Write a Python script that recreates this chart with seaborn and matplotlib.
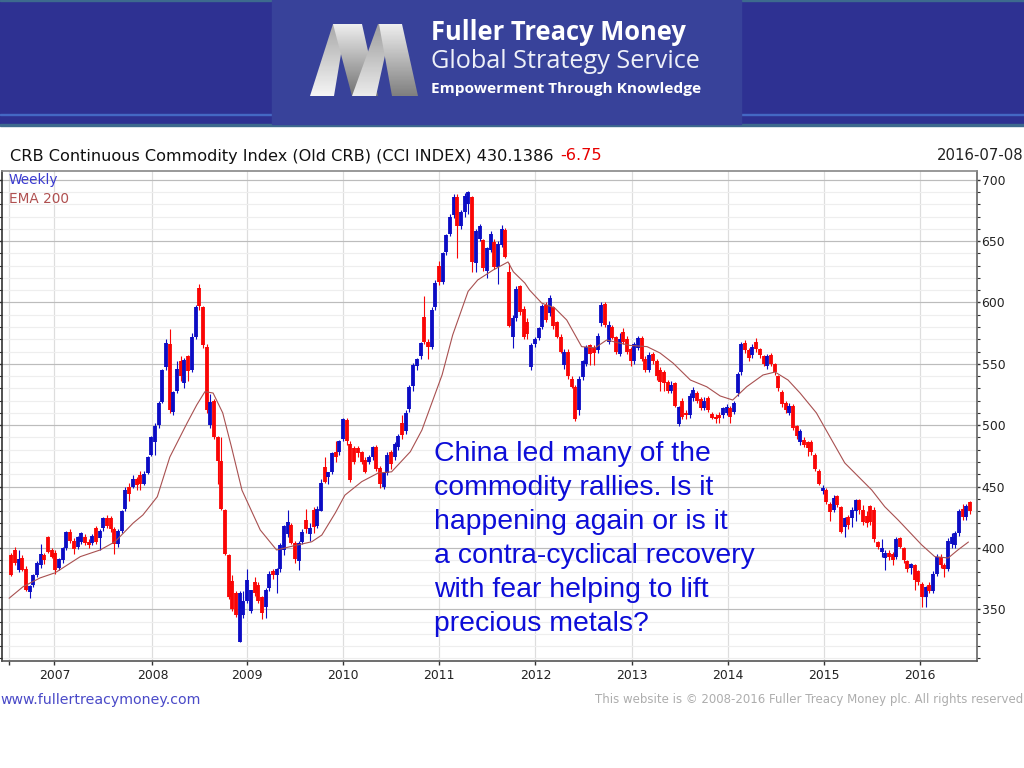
import matplotlib

matplotlib.use("Agg")
import matplotlib.pyplot as plt
import numpy as np
import pandas as pd
import seaborn as sns
from matplotlib.patches import Polygon, Rectangle
from matplotlib.ticker import FixedLocator, MultipleLocator

# two-weekly bars, ending on the last date in the header
candle_dates = pd.date_range(end="2016-07-08", periods=261, freq="14D")

candle_open = [
    394, 398, 382, 392, 383, 364, 370, 378, 386, 394,
    409, 398, 396, 384, 390, 400, 413, 406, 401, 405,
    409, 405, 404, 416, 408, 416, 424, 424, 415, 403,
    414, 432, 450, 450, 456, 459, 452, 461, 476, 486,
    500, 519, 547, 566, 511, 528, 552, 534, 556, 545,
    572, 612, 596, 564, 500, 520, 490, 471, 431, 394,
    373, 363, 323, 345, 357, 349, 372, 370, 360, 352,
    367, 381, 378, 383, 398, 411, 419, 404, 389, 405,
    423, 411, 431, 418, 430, 466, 458, 462, 478, 478,
    489, 504, 485, 481, 481, 478, 472, 470, 474, 482,
    465, 450, 461, 478, 474, 482, 502, 495, 513, 532,
    548, 556, 588, 568, 564, 596, 630, 617, 641, 656,
    671, 686, 662, 674, 680, 686, 632, 652, 651, 626,
    643, 649, 629, 647, 659, 625, 572, 587, 613, 595,
    584, 547, 566, 571, 580, 598, 591, 596, 584, 572,
    549, 560, 538, 531, 512, 539, 550, 565, 563, 561,
    583, 599, 568, 580, 572, 558, 576, 570, 562, 552,
    563, 571, 554, 545, 558, 552, 545, 543, 535, 528,
    534, 501, 520, 510, 508, 522, 526, 521, 514, 522,
    509, 507, 508, 508, 510, 514, 511, 526, 543, 567,
    561, 557, 568, 562, 556, 548, 557, 550, 540, 527,
    518, 510, 516, 499, 486, 488, 486, 486, 476, 463,
    446, 447, 436, 431, 442, 433, 417, 425, 424, 430,
    439, 431, 426, 434, 431, 405, 397, 392, 396, 395,
    393, 408, 400, 389, 384, 386, 381, 371, 360, 370,
    365, 379, 393, 386, 383, 403, 402, 412, 432, 425,
    437,
]
candle_high = [
    396, 401, 398, 394, 385, 370, 379, 389, 403, 396,
    410, 400, 398, 392, 401, 414, 415, 408, 410, 413,
    411, 407, 411, 418, 415, 425, 427, 426, 417, 415,
    431, 450, 453, 459, 458, 463, 463, 475, 491, 502,
    520, 546, 570, 578, 528, 552, 556, 555, 557, 575,
    598, 615, 597, 566, 525, 521, 491, 490, 432, 395,
    378, 365, 365, 365, 383, 366, 376, 372, 361, 367,
    381, 383, 384, 404, 419, 431, 420, 406, 406, 415,
    432, 420, 433, 434, 456, 474, 462, 478, 487, 488,
    506, 506, 487, 483, 483, 479, 474, 476, 483, 484,
    467, 462, 478, 480, 486, 493, 508, 512, 533, 551,
    555, 568, 605, 570, 596, 618, 634, 641, 656, 672,
    688, 688, 675, 689, 691, 687, 660, 664, 652, 645,
    658, 652, 650, 663, 661, 632, 590, 613, 614, 597,
    587, 567, 572, 580, 599, 600, 606, 597, 585, 574,
    562, 562, 540, 533, 540, 553, 565, 566, 565, 575,
    600, 600, 585, 582, 573, 575, 579, 573, 564, 568,
    573, 573, 556, 560, 560, 554, 547, 545, 537, 536,
    535, 516, 522, 512, 526, 531, 528, 523, 523, 524,
    511, 509, 511, 515, 517, 516, 520, 543, 568, 569,
    563, 566, 571, 563, 557, 558, 559, 551, 541, 529,
    520, 518, 517, 500, 497, 490, 487, 488, 477, 464,
    451, 449, 437, 443, 443, 434, 425, 427, 433, 440,
    440, 435, 430, 435, 433, 406, 407, 398, 398, 397,
    409, 409, 401, 390, 388, 387, 382, 372, 369, 372,
    381, 395, 395, 388, 408, 412, 414, 432, 436, 436,
    438,
]
candle_low = [
    377, 386, 380, 381, 365, 359, 368, 376, 384, 387,
    396, 392, 379, 382, 388, 398, 404, 395, 399, 403,
    402, 400, 402, 403, 398, 414, 416, 413, 395, 401,
    412, 430, 438, 449, 447, 447, 451, 460, 475, 476,
    498, 518, 545, 510, 508, 526, 536, 530, 536, 543,
    570, 594, 563, 510, 498, 489, 452, 431, 394, 358,
    349, 344, 323, 343, 355, 347, 361, 355, 342, 343,
    365, 375, 363, 380, 394, 409, 403, 388, 382, 403,
    412, 406, 412, 416, 430, 453, 452, 460, 470, 476,
    487, 484, 454, 468, 474, 468, 461, 468, 472, 463,
    449, 448, 459, 464, 472, 480, 489, 493, 511, 528,
    545, 554, 566, 554, 562, 594, 614, 615, 639, 654,
    669, 636, 660, 670, 672, 625, 625, 650, 626, 620,
    641, 627, 615, 645, 636, 580, 563, 585, 590, 570,
    570, 545, 564, 569, 578, 584, 589, 578, 571, 559,
    546, 538, 530, 503, 508, 537, 548, 549, 549, 559,
    581, 580, 566, 570, 558, 556, 566, 558, 548, 550,
    561, 552, 543, 543, 550, 537, 528, 528, 526, 526,
    515, 499, 505, 505, 506, 520, 518, 512, 512, 511,
    505, 502, 502, 506, 508, 502, 509, 524, 541, 559,
    552, 555, 560, 555, 548, 546, 548, 541, 528, 515,
    510, 508, 496, 489, 484, 482, 475, 476, 463, 451,
    444, 436, 422, 429, 433, 412, 409, 415, 417, 422,
    428, 419, 417, 419, 405, 399, 393, 382, 390, 386,
    391, 400, 388, 380, 379, 366, 370, 352, 352, 363,
    363, 377, 384, 376, 381, 400, 400, 410, 423, 423,
    428,
]
candle_close = [
    378, 388, 391, 382, 366, 369, 378, 388, 395, 390,
    397, 393, 382, 391, 400, 413, 406, 399, 409, 412,
    404, 402, 410, 405, 414, 424, 418, 415, 403, 414,
    430, 447, 444, 456, 451, 452, 460, 474, 490, 499,
    518, 545, 567, 512, 527, 546, 540, 553, 544, 572,
    596, 597, 565, 512, 519, 490, 471, 432, 395, 360,
    350, 345, 363, 357, 374, 366, 363, 357, 347, 366,
    379, 378, 383, 402, 418, 421, 404, 391, 404, 413,
    415, 416, 417, 432, 453, 454, 462, 477, 474, 487,
    505, 487, 455, 470, 477, 470, 462, 474, 482, 464,
    452, 461, 476, 468, 485, 491, 492, 510, 531, 549,
    554, 567, 568, 564, 594, 616, 617, 640, 655, 670,
    686, 662, 674, 687, 690, 633, 658, 662, 628, 644,
    656, 629, 648, 660, 637, 581, 587, 611, 592, 572,
    574, 565, 570, 579, 597, 586, 604, 581, 572, 560,
    560, 540, 531, 505, 538, 552, 564, 558, 559, 573,
    598, 582, 582, 571, 560, 570, 568, 560, 552, 566,
    571, 554, 545, 557, 552, 540, 535, 534, 528, 533,
    516, 515, 507, 508, 524, 529, 520, 514, 520, 512,
    506, 505, 506, 514, 515, 507, 518, 542, 566, 561,
    555, 564, 562, 557, 550, 556, 550, 543, 530, 517,
    512, 516, 498, 491, 495, 484, 481, 478, 464, 452,
    449, 437, 429, 441, 435, 413, 424, 419, 431, 439,
    431, 421, 420, 421, 407, 401, 400, 396, 393, 390,
    407, 401, 390, 383, 387, 374, 372, 360, 368, 365,
    379, 393, 386, 383, 406, 409, 412, 430, 425, 434,
    430.14,
]

ema_years = [
    2006.53, 2006.675, 2006.85, 2007.01, 2007.27, 2007.475, 2007.63, 2007.82,
    2007.92, 2008.07, 2008.2, 2008.38, 2008.48, 2008.565, 2008.65, 2008.75,
    2008.84, 2008.95, 2009.14, 2009.31, 2009.45, 2009.675, 2009.78, 2009.92,
    2010.02, 2010.195, 2010.365, 2010.505, 2010.7, 2010.82, 2011.03, 2011.14,
    2011.3, 2011.4, 2011.56, 2011.715, 2011.77, 2011.89, 2011.94, 2012.065,
    2012.2, 2012.325, 2012.48, 2012.62, 2012.74, 2012.98, 2013.16, 2013.295,
    2013.43, 2013.61, 2013.78, 2013.92, 2014.05, 2014.195, 2014.365, 2014.49,
    2014.625, 2014.75, 2014.92, 2015.06, 2015.215, 2015.495, 2015.63, 2015.77,
    2016.015, 2016.15, 2016.29, 2016.39, 2016.5,
]
ema_values = [
    359, 368.4, 375.5, 379.8, 392.9, 398.3, 405, 420.3,
    426.8, 441.7, 474, 501.8, 516.5, 527.3, 526.2, 510,
    482.5, 447, 414.6, 398.3, 401, 405, 410.5, 428.5,
    443, 454, 461, 462, 478.4, 496, 541, 573.5,
    609, 618.3, 626.4, 633, 625, 615.8, 610, 599.5,
    595.5, 585.7, 564, 563, 569.4, 565, 564, 558.8,
    550.6, 536.8, 531.3, 523.8, 520.5, 531.3, 540.9, 543.3,
    536.8, 526.2, 510, 490.6, 469.2, 447.2, 433.6, 422.7,
    402.4, 392.9, 391.8, 398.3, 404.8,
]

year_ticks = [2006.53, 2007, 2008.02, 2009, 2010, 2011, 2012, 2013, 2014, 2015, 2016]
year_labels = ["", "2007", "2008", "2009", "2010", "2011", "2012", "2013", "2014", "2015", "2016"]
price_ticks = [350, 400, 450, 500, 550, 600, 650, 700]

comment_lines = [
    "China led many of the",
    "commodity rallies. Is it",
    "happening again or is it",
    "a contra-cyclical recovery",
    "with fear helping to lift",
    "precious metals?",
]
header_title = "CRB Continuous Commodity Index (Old CRB) (CCI INDEX) 430.1386"
header_change = "-6.75"
header_date = "2016-07-08"

BLUE = "#0c0cc4"
RED = "#fa0505"
W, H = 1024, 768

sns.set_style("white")
plt.rcParams["font.family"] = ["DejaVu Sans"]

fig = plt.figure(figsize=(W / 100, H / 100), dpi=100, facecolor="white")
ax = fig.add_axes([2 / W, 1 - 660.7 / H, (976.7 - 2) / W, (660.7 - 171) / H])

candle_x = 2007 + (candle_dates - pd.Timestamp("2007-01-01")).days / 365.25
opens = np.array(candle_open, dtype=float)
closes = np.array(candle_close, dtype=float)
colors = [BLUE if c >= o else RED for o, c in zip(opens, closes)]

ax.vlines(candle_x, candle_low, candle_high, colors=colors, linewidth=0.8, capstyle="butt", zorder=3)
ax.vlines(candle_x, opens, closes, colors=colors, linewidth=2.75, capstyle="butt", zorder=4)

sns.lineplot(x=ema_years, y=ema_values, sort=False, estimator=None, color="#a85050", linewidth=0.8, ax=ax, zorder=5)

ax.set_xlim(2006.456, 2016.586)
ax.set_ylim(308.1, 707.1)
ax.xaxis.set_major_locator(FixedLocator(year_ticks))
ax.set_xticklabels(year_labels)
ax.yaxis.set_major_locator(FixedLocator(price_ticks))
ax.yaxis.set_minor_locator(MultipleLocator(10))

# horizontal bands are the strongest thing behind the bars
ax.grid(True, which="major", axis="y", color="#bcbcbc", linewidth=0.85, zorder=1)
ax.grid(True, which="minor", axis="y", color="#eeeeee", linewidth=0.85, zorder=0)
ax.grid(True, which="major", axis="x", color="#dddddd", linewidth=0.85, zorder=1)
ax.set_axisbelow(True)

ax.tick_params(axis="x", which="major", length=3, width=1, color="#333333", labelsize=8.9, labelcolor="#222222", pad=3, bottom=True)
ax.tick_params(axis="y", which="major", length=2, width=1, color="#333333", labelsize=8.9, labelcolor="#222222", pad=1.5,
               left=True, right=True, labelleft=False, labelright=True)
ax.tick_params(axis="y", which="minor", length=2, width=0.8, color="#333333", left=True, right=True)

ax.spines["left"].set_color("#333333")
ax.spines["bottom"].set_color("#555555")
ax.spines["right"].set_color("#666666")
ax.spines["top"].set_color("#888888")
for side in ax.spines:
    ax.spines[side].set_linewidth(1.2)

# page overlay in pixel coordinates for banner, header and footer
page = fig.add_axes([0, 0, 1, 1], zorder=5)
page.patch.set_alpha(0)
page.axis("off")

page.add_patch(Rectangle((0, 0), W, 124, color="#2e3192", zorder=1))
page.add_patch(Rectangle((0, 113.5), W, 1.2, color="#4468c4", zorder=1.1))
page.add_patch(Rectangle((0, 123.5), W, 2, color="#3d6a8e", zorder=1.1))
page.add_patch(Rectangle((0, 0), W, 1.2, color="#3d6a8e", zorder=1.1))
page.add_patch(Rectangle((272, 0), 469, 124, color="#38429a", zorder=1.2))


def gradient_shape(points, top, bottom):
    # polygon filled with a vertical grey ramp
    patch = Polygon(points, closed=True, facecolor="none", edgecolor="none", zorder=2)
    page.add_patch(patch)
    ys = [p[1] for p in points]
    xs = [p[0] for p in points]
    ramp = np.linspace(top, bottom, 64).reshape(-1, 1)
    img = page.imshow(ramp, cmap="gray", vmin=0, vmax=1, aspect="auto",
                      extent=(min(xs), max(xs), max(ys), min(ys)), zorder=2)
    img.set_clip_path(patch)


gradient_shape([(310, 96), (333, 24), (346, 24), (334, 96)], 0.66, 0.96)
gradient_shape([(333, 24), (362, 24), (378, 96), (352, 96)], 0.93, 0.45)
gradient_shape([(352, 96), (378, 24), (392, 24), (376, 96)], 0.62, 0.92)
gradient_shape([(379, 24), (402, 24), (418, 96), (392, 96)], 0.93, 0.5)

page.set_xlim(0, W)
page.set_ylim(H, 0)

page.text(431, 33, "Fuller Treacy Money", family="Open Sans", weight="bold", fontsize=18.4, color="white", va="center", zorder=3)
page.text(431, 62, "Global Strategy Service", family="Open Sans", fontsize=18.2, color="#eef0f8", va="center", zorder=3)
page.text(431, 89, "Empowerment Through Knowledge", family="Open Sans", weight="bold", fontsize=11.1, color="white", va="center", zorder=3)

title_text = page.text(10, 156, header_title, fontsize=11.6, color="#111111", va="center")
fig.canvas.draw()
title_end = title_text.get_window_extent().x1
page.text(title_end + 7, 156, header_change, fontsize=11.6, color="#e80000", va="center")
page.text(1024, 156, header_date, fontsize=10.7, color="#222222", va="center", ha="right")

page.text(9, 180, "Weekly", fontsize=9.8, color="#3a3ad0", va="center")
page.text(9, 199, "EMA 200", fontsize=9.8, color="#b05050", va="center")

for i, line in enumerate(comment_lines):
    page.text(434, 454 + i * 34, line, family="Liberation Sans", fontsize=20.4, color="#0d0dd8", va="center")

page.text(0, 700, "www.fullertreacymoney.com", fontsize=10.2, color="#4a4ac8", va="center")
page.text(1023, 700, "This website is \u00a9 2008-2016 Fuller Treacy Money plc. All rights reserved", fontsize=8.5,
          color="#adadad", va="center", ha="right")

fig.savefig("out.png", dpi=100)
